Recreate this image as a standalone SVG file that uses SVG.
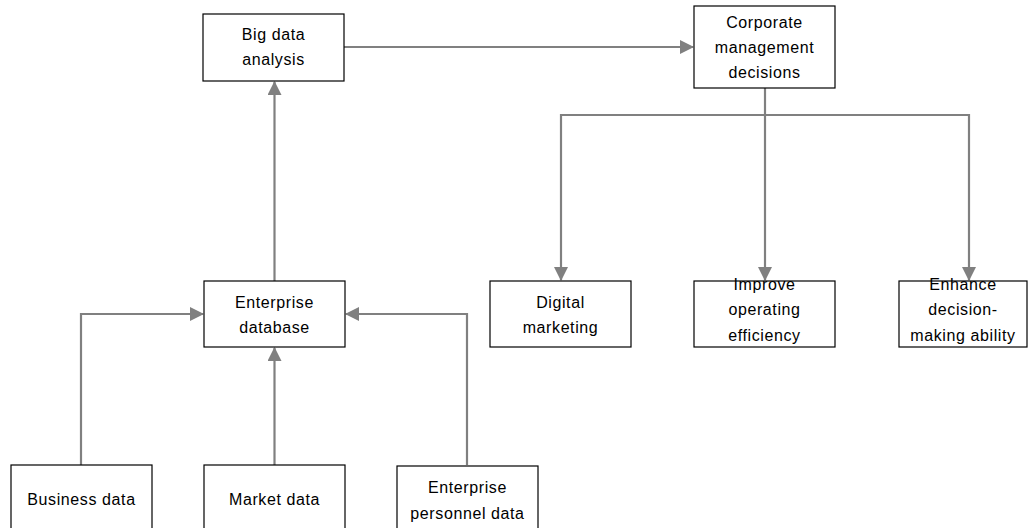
<svg xmlns="http://www.w3.org/2000/svg" width="1031" height="528" viewBox="0 0 1031 528">
<style>
.box{fill:#fff;stroke:#000;stroke-width:1.2}
.lbl{font-family:"Liberation Sans",Arial,sans-serif;font-size:16px;letter-spacing:0.6px;fill:#000;text-anchor:middle}
.conn{fill:none;stroke:#808080;stroke-width:2.2}
</style>
<defs>
<marker id="ah" markerUnits="userSpaceOnUse" markerWidth="14" markerHeight="14" refX="13" refY="7" orient="auto">
<path d="M0,0 L14,7 L0,14 Z" fill="#808080"/>
</marker>
</defs>
<rect width="1031" height="528" fill="#fff"/>
<g id="connectors">
<line class="conn" x1="344" y1="47" x2="693" y2="47" marker-end="url(#ah)"/>
<line class="conn" x1="274.5" y1="281" x2="274.5" y2="82" marker-end="url(#ah)"/>
<line class="conn" x1="765" y1="88" x2="765" y2="280" marker-end="url(#ah)"/>
<polyline class="conn" points="561,115 969,115 969,280" marker-end="url(#ah)"/>
<line class="conn" x1="561" y1="114" x2="561" y2="280" marker-end="url(#ah)"/>
<polyline class="conn" points="81,465 81,314 203,314" marker-end="url(#ah)"/>
<line class="conn" x1="274.5" y1="465" x2="274.5" y2="348" marker-end="url(#ah)"/>
<polyline class="conn" points="467,465 467,314 346,314" marker-end="url(#ah)"/>
</g>
<g id="big-data-analysis">
<rect class="box" x="203" y="14" width="141" height="67"/>
<text class="lbl" x="273.5" y="40">Big data</text>
<text class="lbl" x="273.5" y="65">analysis</text>
</g>
<g id="corporate-management-decisions">
<rect class="box" x="694" y="6" width="141" height="82"/>
<text class="lbl" x="764.5" y="28">Corporate</text>
<text class="lbl" x="764.5" y="53">management</text>
<text class="lbl" x="764.5" y="78">decisions</text>
</g>
<g id="enterprise-database">
<rect class="box" x="204" y="281" width="141" height="66"/>
<text class="lbl" x="274.5" y="308">Enterprise</text>
<text class="lbl" x="274.5" y="333">database</text>
</g>
<g id="digital-marketing">
<rect class="box" x="490" y="281" width="141" height="66"/>
<text class="lbl" x="560.5" y="308">Digital</text>
<text class="lbl" x="560.5" y="333">marketing</text>
</g>
<g id="improve-operating-efficiency">
<rect class="box" x="694" y="281" width="141" height="66"/>
<text class="lbl" x="764.5" y="290">Improve</text>
<text class="lbl" x="764.5" y="315">operating</text>
<text class="lbl" x="764.5" y="341">efficiency</text>
</g>
<g id="enhance-decision-making-ability">
<rect class="box" x="899" y="281" width="128" height="66"/>
<text class="lbl" x="963" y="290">Enhance</text>
<text class="lbl" x="963" y="315">decision-</text>
<text class="lbl" x="963" y="341">making ability</text>
</g>
<g id="business-data">
<rect class="box" x="11" y="465" width="141" height="80"/>
<text class="lbl" x="81.5" y="505">Business data</text>
</g>
<g id="market-data">
<rect class="box" x="204" y="465" width="141" height="80"/>
<text class="lbl" x="274.5" y="505">Market data</text>
</g>
<g id="enterprise-personnel-data">
<rect class="box" x="397" y="466" width="141" height="80"/>
<text class="lbl" x="467.5" y="493">Enterprise</text>
<text class="lbl" x="467.5" y="519">personnel data</text>
</g>
</svg>
